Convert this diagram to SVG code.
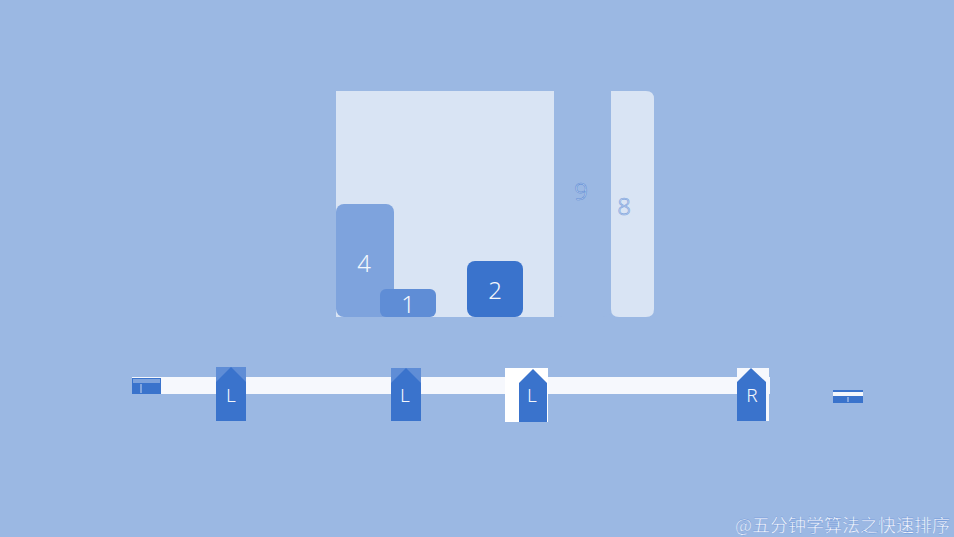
<svg xmlns="http://www.w3.org/2000/svg" width="954" height="537" viewBox="0 0 954 537">
<style>
.lbl{font-family:"Noto Sans","Liberation Sans","DejaVu Sans",sans-serif;font-weight:300;font-size:24px;text-anchor:middle;dominant-baseline:central;fill:#F4F7FC}
.ptr{fill:#3A73CC}
.mk{font-family:"Noto Sans","DejaVu Sans",sans-serif;font-weight:300;font-size:19px;text-anchor:middle;dominant-baseline:central;fill:#F4F7FC}
</style>
<rect width="954" height="537" fill="#9BB8E3"/>
<g id="bars">
<rect x="336" y="91" width="218" height="226" fill="#D9E4F4"/>
<g id="bar-9"><path d="M554 91 H611 V309 Q611 317 603 317 H562 Q554 317 554 309 Z" fill="#9BB8E3"/><text class="lbl" x="581" y="190" style="fill:#C9D8F0;stroke:#5F8DD6;stroke-width:0.6">9</text></g>
<g id="bar-8"><path d="M611 91 H646 Q654 91 654 99 V309 Q654 317 646 317 H619 Q611 317 611 309 Z" fill="#D9E4F4"/><text class="lbl" x="624" y="205" style="fill:#C9D8F0;stroke:#7EA3DD;stroke-width:0.6">8</text></g>
<g id="bar-4"><rect x="336" y="204" width="58" height="113" rx="8" fill="#7EA3DD"/><text class="lbl" x="364" y="262">4</text></g>
<g id="bar-1"><rect x="380" y="289" width="56" height="28" rx="6" fill="#5F8DD6"/><text class="lbl" x="408" y="303">1</text></g>
<g id="bar-2"><rect x="467" y="261" width="56" height="56" rx="8" fill="#3A73CC"/><text class="lbl" x="495" y="289">2</text></g>
</g>
<g id="track">
<rect x="132" y="377" width="638" height="17" fill="#F6F8FD"/>
</g>
<g id="pointer-left"><rect x="132" y="378" width="29" height="16" class="ptr"/><rect x="133" y="379" width="27" height="4" fill="#7EA3DD"/><line x1="141" y1="384" x2="141" y2="393" stroke="#C9D8F0" stroke-width="1"/></g>
<g id="pointer-right"><rect x="833" y="390" width="30" height="13" class="ptr"/><rect x="833" y="392" width="30" height="4" fill="#F4F7FC"/><line x1="848" y1="397" x2="848" y2="402" stroke="#C9D8F0" stroke-width="1"/></g>
<g id="marker-L1"><rect x="216" y="367" width="30" height="54" fill="#5F8DD6"/><path d="M216 382 L231 367 L246 382 V421 H216 Z" class="ptr"/><text class="mk" x="231" y="395">L</text></g>
<g id="marker-L2"><rect x="391" y="368" width="30" height="53" fill="#5F8DD6"/><path d="M391 383 L406 368 L421 383 V421 H391 Z" class="ptr"/><text class="mk" x="405" y="395">L</text></g>
<g id="marker-L3"><rect x="505" y="368" width="43" height="54" fill="#FFFFFF"/><path d="M519 383 L533 369 L547 383 V422 H519 Z" class="ptr"/><text class="mk" x="532" y="395">L</text></g>
<g id="marker-R"><rect x="737" y="368" width="32" height="53" fill="#F6F8FD"/><path d="M737 382 L751 368 L766 382 V421 H737 Z" class="ptr"/><text class="mk" x="752" y="395">R</text></g>
<text x="735" y="524" style="font-family:'Noto Sans CJK SC','DejaVu Sans',sans-serif;font-size:18px;fill:#F4F7FC;stroke:#5F8DD6;stroke-width:0.3" dominant-baseline="central">@五分钟学算法之快速排序</text>
</svg>
